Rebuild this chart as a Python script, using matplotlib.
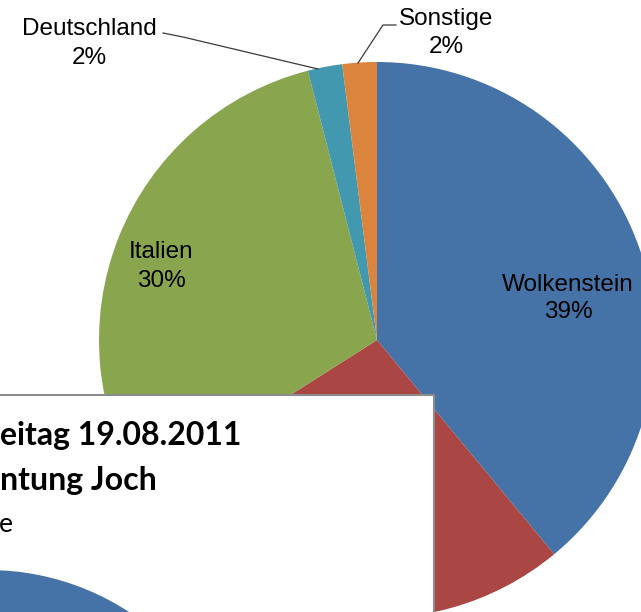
import matplotlib
matplotlib.use("Agg")
import matplotlib.pyplot as plt
from matplotlib.patches import Circle

W, H = 641, 612

# Daten
kategorien = ["Wolkenstein", "Südtirol", "Italien", "Deutschland", "Sonstige"]
anteile = [39, 27, 30, 2, 2]
farben = ["#4572A7", "#AA4643", "#89A54E", "#4198AF", "#DB843D"]

# Beschriftung: x-Mitte, Grundlinie Name, Grundlinie Prozent (Pixel von oben)
label_pos = {
    "Wolkenstein": (568, 291, 318),
    "Südtirol": (350, 500, 528),
    "Italien": (161, 258, 287),
    "Deutschland": (89, 35, 64),
    "Sonstige": (446, 25, 53),
}
leader = {
    "Deutschland": [(163, 33), (183, 37), (318, 69)],
    "Sonstige": [(396, 25), (383, 25), (358, 63)],
}

# sichtbarer Rest des ueberdeckenden Charts
box_zeilen = ["eitag 19.08.2011", "ntung Joch", "e"]


def py(y):
    # Pixel von oben -> Datenkoordinate
    return H - y


fig = plt.figure(figsize=(W / 100, H / 100), dpi=100)
ax = fig.add_axes([0, 0, 1, 1])
ax.pie(anteile, colors=farben, startangle=90, counterclock=False,
       center=(377, py(340)), radius=278, wedgeprops=dict(linewidth=0))
ax.set_xlim(0, W)
ax.set_ylim(0, H)
ax.set_aspect("equal")
ax.axis("off")

for name, wert in zip(kategorien, anteile):
    x, y1, y2 = label_pos[name]
    ax.text(x, py(y1), name, ha="center", va="baseline",
            fontsize=17.5, family="Liberation Sans", color="black")
    ax.text(x, py(y2), f"{wert}%", ha="center", va="baseline",
            fontsize=17.5, family="Liberation Sans", color="black")

for name, pts in leader.items():
    xs = [p[0] for p in pts]
    ys = [py(p[1]) for p in pts]
    ax.plot(xs, ys, color="#3a3a3a", lw=0.9)

# ueberlagerter zweiter Chart (Kasten unten links)
bx0, bx1, btop, bbot = -260, 434, 395, 700
box = fig.add_axes([bx0 / W, py(bbot) / H, (bx1 - bx0) / W, (bbot - btop) / H])
box.set_xlim(bx0, bx1)
box.set_ylim(py(bbot), py(btop))
box.set_facecolor("white")
box.set_xticks([])
box.set_yticks([])
for s in box.spines.values():
    s.set_color("#8c8c8c")
    s.set_linewidth(1.5)

box.text(0, py(445), box_zeilen[0], ha="left", va="baseline",
         fontsize=23, fontweight="bold", family="Lato", clip_on=True)
box.text(0, py(490), box_zeilen[1], ha="left", va="baseline",
         fontsize=23, fontweight="bold", family="Lato", clip_on=True)
box.text(-1, py(532), box_zeilen[2], ha="left", va="baseline",
         fontsize=19, family="Lato", clip_on=True)
box.add_patch(Circle((-12, py(828)), 258, color="#4572A7", lw=0))

fig.savefig("out.png", dpi=100)
